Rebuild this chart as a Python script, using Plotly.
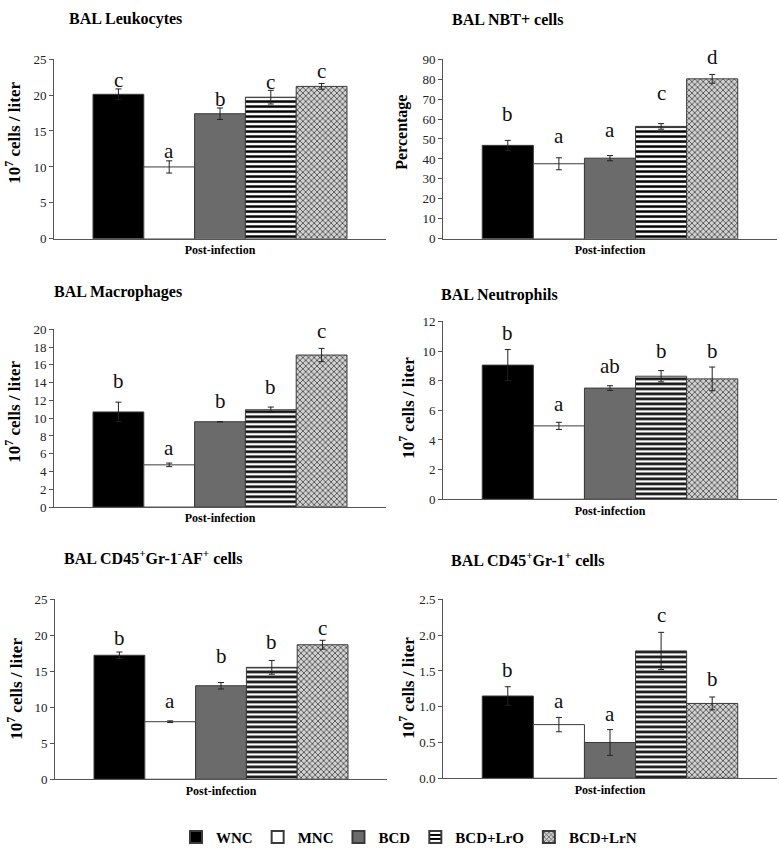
import plotly.graph_objects as go

groups = ["WNC", "MNC", "BCD", "BCD+LrO", "BCD+LrN"]
category = "Post-infection"

leuko_vals = [20.1, 10.0, 17.4, 19.7, 21.2]
leuko_err = [0.75, 0.85, 0.8, 0.95, 0.4]
leuko_letters = ["c", "a", "b", "c", "c"]
leuko_letter_y = [21.8, 12.0, 19.2, 21.6, 23.0]

nbt_vals = [46.8, 37.6, 40.4, 56.3, 80.1]
nbt_err = [2.5, 3.0, 1.3, 1.4, 2.2]
nbt_letters = ["b", "a", "a", "c", "d"]
nbt_letter_y = [61.5, 50.5, 53.3, 72.0, 90.0]

macro_vals = [10.7, 4.75, 9.6, 10.95, 17.1]
macro_err = [1.1, 0.2, 0.0, 0.3, 0.75]
macro_letters = ["b", "a", "b", "b", "c"]
macro_letter_y = [13.9, 6.4, 11.7, 13.3, 19.6]

neutro_vals = [9.05, 4.95, 7.5, 8.3, 8.12]
neutro_err = [1.05, 0.24, 0.16, 0.38, 0.8]
neutro_letters = ["b", "a", "ab", "b", "b"]
neutro_letter_y = [11.05, 6.3, 8.85, 9.85, 9.85]

af_vals = [17.24, 8.0, 13.0, 15.56, 18.7]
af_err = [0.45, 0.12, 0.45, 0.96, 0.62]
af_letters = ["b", "a", "b", "b", "c"]
af_letter_y = [19.4, 10.6, 16.9, 18.8, 20.8]

gr_vals = [1.15, 0.75, 0.5, 1.78, 1.046]
gr_err = [0.13, 0.1, 0.18, 0.26, 0.09]
gr_letters = ["b", "a", "a", "c", "b"]
gr_letter_y = [1.48, 1.05, 0.87, 2.25, 1.36]

panels = [
    dict(title="BAL Leukocytes", ytitle="10<sup>7</sup> cells / liter", vals=leuko_vals, err=leuko_err,
         letters=leuko_letters, ly=leuko_letter_y, ymax=25, dtick=5, fmt=None,
         xdom=(54, 386), ydom=(236, 53), tpos=(67, 12), ypos=(13, 128)),
    dict(title="BAL NBT+ cells", ytitle="Percentage", vals=nbt_vals, err=nbt_err,
         letters=nbt_letters, ly=nbt_letter_y, ymax=90, dtick=10, fmt=None,
         xdom=(443, 777), ydom=(236, 53), tpos=(450, 13), ypos=(402, 128)),
    dict(title="BAL Macrophages", ytitle="10<sup>7</sup> cells / liter", vals=macro_vals, err=macro_err,
         letters=macro_letters, ly=macro_letter_y, ymax=20, dtick=2, fmt=None,
         xdom=(54, 386), ydom=(509, 328), tpos=(52, 290), ypos=(13, 412)),
    dict(title="BAL Neutrophils", ytitle="10<sup>7</sup> cells / liter", vals=neutro_vals, err=neutro_err,
         letters=neutro_letters, ly=neutro_letter_y, ymax=12, dtick=2, fmt=None,
         xdom=(443, 777), ydom=(501, 320), tpos=(439, 293), ypos=(407, 408)),
    dict(title="BAL CD45<sup>+</sup>Gr-1<sup>-</sup>AF<sup>+</sup> cells", ytitle="10<sup>7</sup> cells / liter",
         vals=af_vals, err=af_err, letters=af_letters, ly=af_letter_y, ymax=25, dtick=5, fmt=None,
         xdom=(55, 387), ydom=(786, 603), tpos=(62, 560), ypos=(15, 694)),
    dict(title="BAL CD45<sup>+</sup>Gr-1<sup>+</sup> cells", ytitle="10<sup>7</sup> cells / liter",
         vals=gr_vals, err=gr_err, letters=gr_letters, ly=gr_letter_y, ymax=2.5, dtick=0.5, fmt=".1f",
         xdom=(443, 777), ydom=(785, 603), tpos=(449, 562), ypos=(407, 693)),
]

W, H = 779, 857
SERIF = "Liberation Serif, Times New Roman, serif"

styles = [
    dict(color="#000000"),
    dict(color="#ffffff"),
    dict(color="#6b6b6b"),
    dict(color="#ffffff", pattern=dict(shape="-", fgcolor="#000000", bgcolor="#ffffff", size=5,
                                       solidity=0.5, fgopacity=1)),
    dict(color="#c8c8c8", pattern=dict(shape="x", fgcolor="#2a2a2a", bgcolor="#d2d2d2", size=4,
                                       solidity=0.32, fgopacity=1)),
]

fig = go.Figure()
annotations = []
for p_i, p in enumerate(panels):
    k = "" if p_i == 0 else str(p_i + 1)
    xa, ya = "x" + k, "y" + k
    for g_i, g in enumerate(groups):
        st = styles[g_i]
        marker = dict(color=st["color"], line=dict(color="#3a3a3a", width=1))
        if "pattern" in st:
            marker["pattern"] = st["pattern"]
        fig.add_trace(go.Bar(
            x=[g_i], y=[p["vals"][g_i]], width=1.0, name=g,
            marker=marker, legendgroup=g, showlegend=(p_i == 0),
            error_y=dict(type="data", array=[p["err"][g_i]], visible=True,
                         color="#222222", thickness=1, width=3),
            xaxis=xa, yaxis=ya,
        ))
        annotations.append(dict(x=g_i, y=p["ly"][g_i], xref=xa, yref=ya, text=p["letters"][g_i],
                                showarrow=False, font=dict(family=SERIF, size=21, color="#111"),
                                yanchor="middle", yshift=2))
    annotations.append(dict(x=p["tpos"][0] / W, y=1 - p["tpos"][1] / H, xref="paper", yref="paper",
                            text="<b>" + p["title"] + "</b>", showarrow=False, xanchor="left",
                            yanchor="middle", font=dict(family=SERIF, size=16, color="#000")))
    ysize = 16 if p["ytitle"] == "Percentage" else 17
    annotations.append(dict(x=p["ypos"][0] / W, y=1 - p["ypos"][1] / H, xref="paper", yref="paper",
                            text="<b>" + p["ytitle"] + "</b>", showarrow=False, textangle=-90,
                            xanchor="center", yanchor="middle", font=dict(family=SERIF, size=ysize, color="#000")))
    half = 2.5 / 0.765
    fig.update_layout(**{
        "xaxis" + k: dict(domain=[p["xdom"][0] / W, p["xdom"][1] / W], range=[2 - half, 2 + half],
                          tickvals=[2], ticktext=[category], showline=True, linecolor="#555", linewidth=1,
                          ticks="", showgrid=False, zeroline=False, anchor=ya, fixedrange=True,
                          tickfont=dict(family=SERIF, size=12, color="#000", weight="bold")),
        "yaxis" + k: dict(domain=[1 - p["ydom"][0] / H, 1 - p["ydom"][1] / H], range=[0, p["ymax"]],
                          dtick=p["dtick"], tick0=0, showline=True, linecolor="#555", linewidth=1,
                          ticks="outside", ticklen=4, tickcolor="#555", showgrid=False, zeroline=False,
                          anchor=xa, tickformat=p["fmt"] if p["fmt"] else None,
                          tickfont=dict(family=SERIF, size=13, color="#222")),
    })

fig.update_layout(
    width=W, height=H, margin=dict(l=0, r=0, t=0, b=0),
    paper_bgcolor="white", plot_bgcolor="white",
    barmode="overlay", annotations=annotations,
    legend=dict(orientation="h", x=0.525, xanchor="center", y=(H - 845) / H, yanchor="middle",
                font=dict(family=SERIF, size=15, color="#000", weight="bold"),
                itemsizing="constant", tracegroupgap=0),
)

fig.write_html("out.html", config={"displayModeBar": False},
               post_script="document.body.style.margin='0';document.body.style.overflow='hidden';")
